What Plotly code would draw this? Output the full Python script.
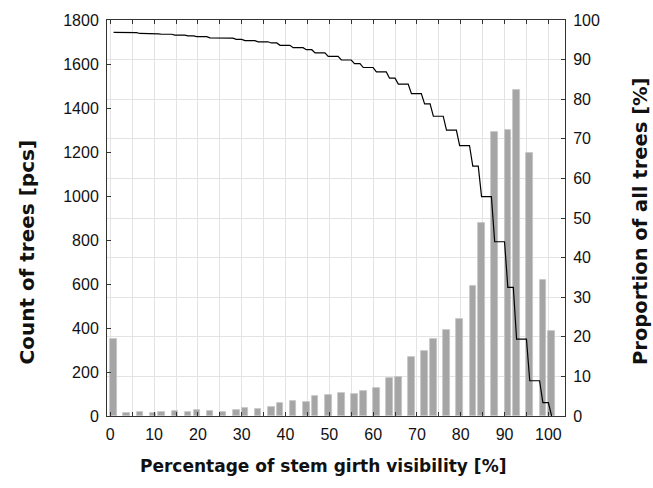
import plotly.graph_objects as go

# Visibility classes [%] (left edge of each bar)
vis_class = [0, 3, 6, 9, 11, 14, 17, 19, 22, 25, 28, 30, 33, 36, 38, 41, 44, 46, 49,
             52, 55, 57, 60, 63, 65, 68, 71, 73, 76, 79, 82, 84, 87, 90, 92, 95, 98, 100]
# Count of trees in each class [pcs]
tree_count = [349, 13, 19, 12, 20, 22, 18, 28, 25, 18, 28, 37, 33, 41, 60, 69, 64, 89, 94,
              106, 101, 114, 129, 175, 176, 270, 296, 352, 392, 441, 590, 877, 1292, 1301,
              1482, 1196, 619, 387]
# Proportion of all trees above the class [%]
proportion = [96.9, 96.8, 96.6, 96.5, 96.4, 96.2, 96.0, 95.8, 95.5, 95.4, 95.1, 94.8, 94.5,
              94.2, 93.6, 93.0, 92.5, 91.7, 90.8, 89.9, 89.0, 88.0, 86.9, 85.3, 83.8, 81.4,
              78.8, 75.7, 72.2, 68.3, 63.1, 55.4, 44.0, 32.5, 19.4, 8.9, 3.4, 0.0]

BAR_W = 1.5
HALF = BAR_W / 2

# step-like line: drop from the bar's left edge to its centre, then flat
lx, ly = [vis_class[0] + HALF], [proportion[0]]
for i in range(1, len(vis_class)):
    lx += [vis_class[i], vis_class[i] + HALF]
    ly += [proportion[i - 1], proportion[i]]

FONT = "Liberation Sans, Arial, sans-serif"
TFONT = "DejaVu Sans, Verdana, sans-serif"
GRID = "#e3e3e3"
TXT = "#111111"

fig = go.Figure()
fig.add_trace(go.Bar(x=vis_class, y=tree_count, width=BAR_W, offset=0,
                     marker=dict(color="#a5a5a5", line=dict(color="#c4c4c4", width=0.8)),
                     yaxis="y", showlegend=False))
fig.add_trace(go.Scatter(x=lx, y=ly, mode="lines", line=dict(color="black", width=1.2),
                         yaxis="y2", showlegend=False))

fig.update_layout(
    width=653, height=488,
    margin=dict(l=107, r=88, t=18, b=72),
    paper_bgcolor="white", plot_bgcolor="white",
    font=dict(family=FONT, size=16, color=TXT),
    bargap=0,
    xaxis=dict(range=[-0.75, 103.8], tick0=0, dtick=10, ticks="inside", ticklen=4,
               tickcolor="#333", showline=True, linecolor="#333", linewidth=1, mirror="ticks",
               showgrid=True, gridcolor=GRID, gridwidth=1, zeroline=False,
               minor=dict(dtick=5, tick0=0, ticks="inside", ticklen=4, tickcolor="#333",
                          showgrid=True, gridcolor=GRID, gridwidth=1),
               tickfont=dict(size=16), ticklabelstandoff=4),
    yaxis=dict(range=[0, 1800], dtick=200, ticks="inside", ticklen=4, tickcolor="#333",
               showline=True, linecolor="#333", linewidth=1, showgrid=False, zeroline=False,
               tickfont=dict(size=16), ticklabelstandoff=4),
    yaxis2=dict(range=[0, 100], dtick=10, overlaying="y", side="right", ticks="inside",
                ticklen=4, tickcolor="#333", showline=True, linecolor="#333", linewidth=1,
                showgrid=True, gridcolor=GRID, gridwidth=1, zeroline=False,
                tickfont=dict(size=16), ticklabelstandoff=4),
    annotations=[
        dict(text="<b>Count of trees [pcs]</b>", xref="paper", yref="paper",
             x=-0.175, y=0.415, xanchor="center", yanchor="middle", textangle=-90,
             showarrow=False, font=dict(family=TFONT, size=20, color=TXT)),
        dict(text="<b>Proportion of all trees [%]</b>", xref="paper", yref="paper",
             x=1.166, y=0.49, xanchor="center", yanchor="middle", textangle=-90,
             showarrow=False, font=dict(family=TFONT, size=19.5, color=TXT)),
        dict(text="<b>Percentage of stem girth visibility [%]</b>", xref="paper",
             yref="paper", x=0.4716, y=-0.1256, xanchor="center", yanchor="middle",
             showarrow=False, font=dict(family=TFONT, size=17, color=TXT)),
    ],
)

fig.write_html("out.html")
